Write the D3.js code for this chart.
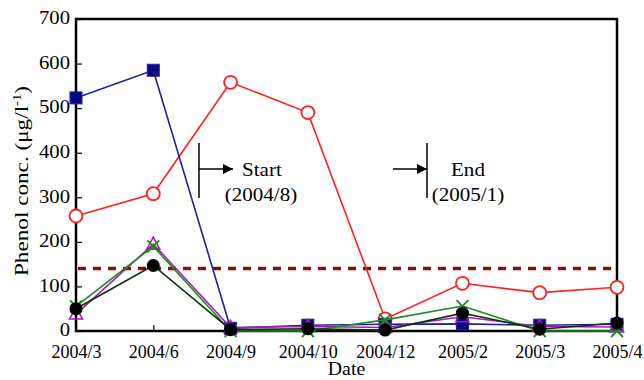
<!DOCTYPE html>
<html>
<head>
<meta charset="utf-8">
<script src="https://cdn.jsdelivr.net/npm/d3@7"></script>
<style>
  body { margin: 0; background: #fff; }
  text { font-family: "Liberation Serif", "DejaVu Serif", serif; }
</style>
</head>
<body>
<div id="chart"></div>
<script>
const dates = ['2004/3', '2004/6', '2004/9', '2004/10', '2004/12', '2005/2', '2005/3', '2005/4']
const yTicks = [0, 100, 200, 300, 400, 500, 600, 700]

// series values, ug/l
const redCircle = [258, 308, 558, 490, 27, 107, 86, 98]
const blueSquare = [523, 585, 6, 13, 15, 16, 13, 15]
const purpleTriangle = [38, 195, 8, 10, 8, 32, 10, 9]
const greenCross = [55, 190, 0, 0, 25, 56, 0, 0]
const blackCircle = [50, 147, 3, 5, 2, 40, 4, 18]
const limit = 140

const width = 644
const height = 380
const margin = { top: 19, right: 27, bottom: 49, left: 76 }

const svg = d3.select('#chart').append('svg')
  .attr('width', width)
  .attr('height', height)

const x = d3.scalePoint()
  .domain(dates)
  .range([margin.left, width - margin.right])

const y = d3.scaleLinear()
  .domain([0, 700])
  .range([height - margin.bottom, margin.top])

// frame
svg.append('rect')
  .attr('x', margin.left)
  .attr('y', margin.top)
  .attr('width', width - margin.right - margin.left)
  .attr('height', height - margin.bottom - margin.top)
  .attr('fill', 'none')
  .attr('stroke', '#000')
  .attr('stroke-width', 2.5)

const xAxis = svg.append('g')
  .attr('transform', `translate(0,${height - margin.bottom})`)
  .call(d3.axisBottom(x).tickSizeInner(-6).tickSizeOuter(0).tickPadding(14))
xAxis.select('.domain').remove()
xAxis.selectAll('line').attr('stroke-width', 1.2)
xAxis.selectAll('text').attr('font-size', 18).attr('fill', '#000')

const yAxis = svg.append('g')
  .attr('transform', `translate(${margin.left},0)`)
  .call(d3.axisLeft(y).tickValues(yTicks).tickSizeInner(-6).tickSizeOuter(0).tickPadding(6))
yAxis.select('.domain').remove()
yAxis.selectAll('line').attr('stroke-width', 1.2)
yAxis.selectAll('text').attr('font-size', 18).attr('fill', '#000')
  .attr('x', 0).attr('transform', 'translate(-6,-1) scale(1.15,1)')

// axis titles
svg.append('text')
  .attr('transform', `translate(${(margin.left + width - margin.right) / 2},375) scale(1.1,1)`)
  .attr('text-anchor', 'middle')
  .attr('font-size', 18)
  .text('Date')

const yTitle = svg.append('text')
  .attr('transform', `translate(28,${(margin.top + height - margin.bottom) / 2 + 6}) rotate(-90) scale(1.22,1)`)
  .attr('text-anchor', 'middle')
  .attr('font-size', 19)
yTitle.append('tspan').text('Phenol conc. (μg/l')
yTitle.append('tspan').attr('font-size', 12).attr('dy', -7).text('-1')
yTitle.append('tspan').attr('dy', 7).text(')')

// limit line
svg.append('line')
  .attr('x1', margin.left + 2)
  .attr('x2', width - margin.right - 2)
  .attr('y1', y(limit))
  .attr('y2', y(limit))
  .attr('stroke', '#8b0a0a')
  .attr('stroke-width', 3.5)
  .attr('stroke-dasharray', '8,7')

// annotations
svg.append('defs').append('marker')
  .attr('id', 'arrow')
  .attr('viewBox', '0 0 10 10')
  .attr('refX', 10)
  .attr('refY', 5)
  .attr('markerWidth', 14)
  .attr('markerHeight', 10)
  .attr('markerUnits', 'userSpaceOnUse')
  .attr('orient', 'auto')
  .append('path')
  .attr('d', 'M0,0L10,5L0,10Z')
  .attr('fill', '#000')

const ann = svg.append('g').attr('stroke', '#000').attr('stroke-width', 1.5)
ann.append('line').attr('x1', 199).attr('x2', 199).attr('y1', 143).attr('y2', 198)
ann.append('line').attr('x1', 199).attr('x2', 233).attr('y1', 169).attr('y2', 169).attr('marker-end', 'url(#arrow)')
ann.append('line').attr('x1', 427).attr('x2', 427).attr('y1', 143).attr('y2', 198)
ann.append('line').attr('x1', 393).attr('x2', 427).attr('y1', 169).attr('y2', 169).attr('marker-end', 'url(#arrow)')

const annText = [
  { t: 'Start', x: 242, y: 176, anchor: 'start' },
  { t: '(2004/8)', x: 261, y: 201, anchor: 'middle' },
  { t: 'End', x: 451, y: 176, anchor: 'start' },
  { t: '(2005/1)', x: 468, y: 201, anchor: 'middle' }
]
svg.selectAll('.ann').data(annText).enter().append('text')
  .attr('transform', d => `translate(${d.x},${d.y}) scale(1.17,1)`)
  .attr('text-anchor', d => d.anchor)
  .attr('font-size', 18)
  .text(d => d.t)

// series
const series = [
  { values: redCircle, line: '#ff2020', shape: 'circleOpen' },
  { values: blueSquare, line: '#20209a', shape: 'square' },
  { values: purpleTriangle, line: '#a020a8', shape: 'triangle' },
  { values: greenCross, line: '#1f8a1f', shape: 'cross' },
  { values: blackCircle, line: '#143014', shape: 'circle' }
]

const line = d3.line()
  .x((d, i) => x(dates[i]))
  .y(d => y(d))

series.forEach(s => {
  const g = svg.append('g')
  g.append('path')
    .attr('d', line(s.values))
    .attr('fill', 'none')
    .attr('stroke', s.line)
    .attr('stroke-width', 1.6)

  const pts = g.selectAll('.pt').data(s.values).enter().append('g')
    .attr('transform', (d, i) => `translate(${x(dates[i])},${y(d)})`)

  if (s.shape === 'circleOpen') {
    pts.append('circle').attr('r', 6.5).attr('fill', '#fff').attr('stroke', s.line).attr('stroke-width', 1.8)
  } else if (s.shape === 'circle') {
    pts.append('circle').attr('r', 6.5).attr('fill', '#000')
  } else if (s.shape === 'square') {
    pts.append('rect').attr('x', -6).attr('y', -6).attr('width', 12).attr('height', 12)
      .attr('fill', '#0a0a80').attr('stroke', '#20209a').attr('stroke-width', 1)
  } else if (s.shape === 'triangle') {
    pts.append('path').attr('d', 'M0,-7L6.5,5L-6.5,5Z')
      .attr('fill', 'none').attr('stroke', s.line).attr('stroke-width', 1.6)
  } else if (s.shape === 'cross') {
    pts.append('path').attr('d', 'M-6,-6L6,6M-6,6L6,-6')
      .attr('stroke', s.line).attr('stroke-width', 1.8)
  }
})
</script>
</body>
</html>
